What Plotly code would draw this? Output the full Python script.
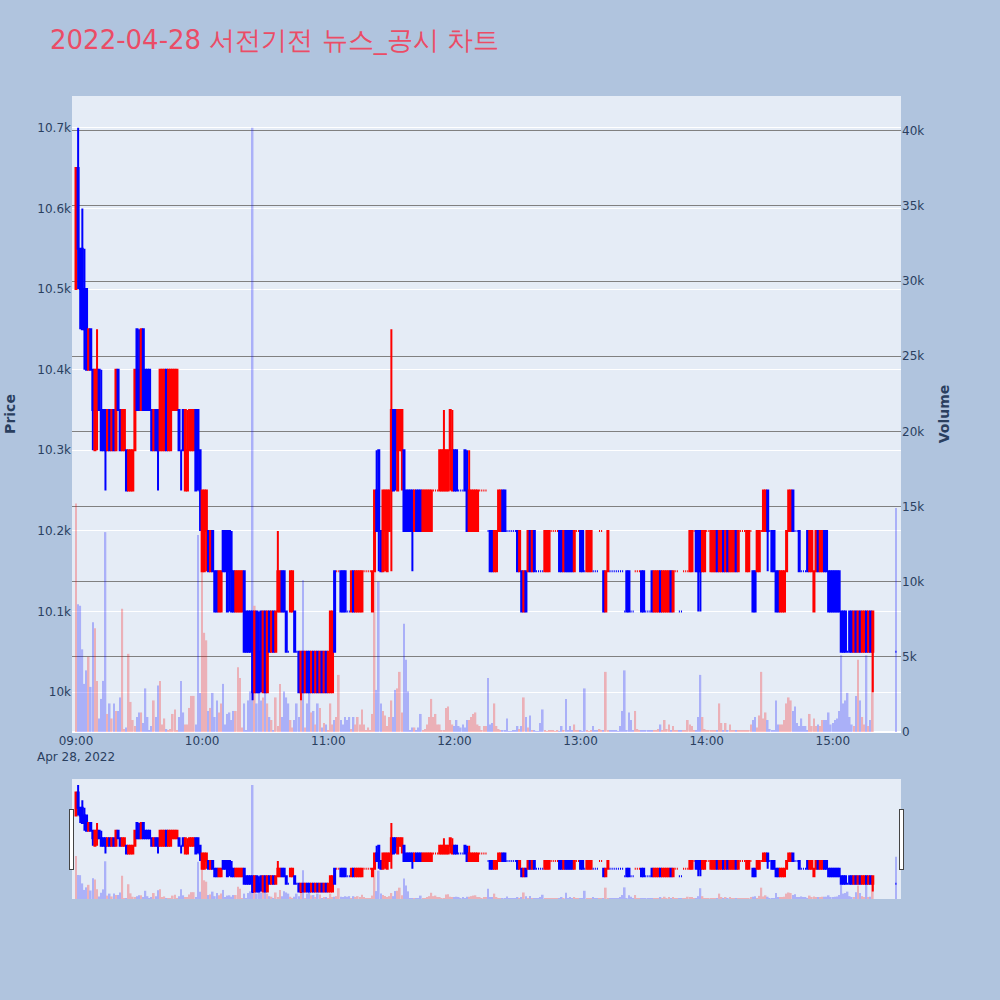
import pandas as pd
import plotly.graph_objects as go
from plotly.subplots import make_subplots

# ---- data (1-minute candles, 2022-04-28) ----
minute_times = [t.strftime("%Y-%m-%d %H:%M") for t in pd.date_range("2022-04-28 09:00", periods=380, freq="min")] + ["2022-04-28 15:30"]

opens = [
    10500,10650,10550,10550,10500,10500,10400,10450,10400,10300,
    10350,10400,10350,10350,10350,10300,10350,10300,10350,10300,
    10400,10350,10300,10300,10300,10250,10250,10250,10300,10450,
    10400,10350,10450,10400,10400,10400,10350,10300,10350,10350,
    10300,10300,10300,10400,10300,10300,10350,10350,10350,10350,
    10300,10350,10250,10250,10300,10300,10300,10350,10350,10300,
    10150,10150,10200,10200,10150,10200,10150,10150,10100,10100,
    10200,10200,10200,10200,10150,10150,10100,10100,10100,10100,
    10150,10100,10100,10100,10100,10000,10100,10050,10100,10000,
    10100,10000,10100,10050,10100,10050,10100,10100,10150,10150,
    10100,10050,10100,10100,10100,10050,10050,10000,10050,10000,
    10050,10050,10000,10050,10000,10050,10000,10050,10000,10050,
    10000,10000,10000,10150,10150,10150,10150,10150,10150,10100,
    10100,10100,10150,10100,10100,10100,10100,10150,10150,10150,
    10150,10100,10150,10250,10300,10200,10150,10200,10150,10200,
    10250,10350,10350,10250,10300,10300,10300,10250,10250,10250,
    10250,10200,10250,10250,10250,10200,10200,10200,10200,10200,
    10250,10250,10250,10250,10250,10250,10250,10250,10300,10250,
    10300,10300,10250,10250,10250,10300,10250,10200,10200,10200,
    10200,10200,10250,10250,10250,10250,10200,10200,10200,10150,
    10150,10200,10200,10250,10250,10200,10200,10200,10200,10200,
    10200,10150,10150,10100,10150,10150,10200,10150,10200,10150,
    10150,10150,10150,10150,10150,10150,10200,10200,10200,10200,
    10200,10200,10150,10200,10200,10200,10200,10150,10200,10200,
    10200,10200,10150,10150,10150,10150,10150,10150,10150,10200,
    10200,10150,10100,10150,10150,10150,10150,10150,10150,10150,
    10150,10100,10150,10150,10100,10100,10150,10150,10150,10150,
    10150,10100,10100,10100,10150,10100,10100,10100,10150,10100,
    10100,10100,10100,10150,10100,10150,10150,10100,10100,10150,
    10150,10150,10150,10150,10200,10200,10200,10200,10150,10150,
    10200,10200,10150,10150,10150,10200,10150,10150,10200,10150,
    10200,10150,10150,10150,10200,10150,10200,10200,10200,10150,
    10150,10200,10150,10150,10150,10150,10200,10200,10200,10250,
    10200,10200,10200,10150,10150,10100,10100,10100,10150,10200,
    10200,10250,10200,10200,10200,10150,10150,10150,10200,10150,
    10150,10100,10150,10200,10150,10150,10200,10200,10150,10150,
    10150,10150,10150,10150,10100,10100,10100,10050,10100,10100,
    10050,10100,10050,10100,10050,10050,10100,10050,10100,10050,
    10050,
]
highs = [
    10650,10700,10550,10600,10550,10500,10450,10450,10400,10400,
    10450,10400,10400,10350,10350,10350,10350,10350,10350,10400,
    10400,10350,10350,10350,10300,10300,10300,10300,10400,10450,
    10450,10450,10450,10400,10400,10400,10350,10350,10350,10350,
    10400,10400,10400,10400,10400,10400,10400,10400,10400,10350,
    10300,10350,10350,10350,10350,10350,10350,10350,10350,10300,
    10250,10250,10250,10200,10200,10200,10150,10150,10150,10150,
    10200,10200,10200,10200,10200,10150,10150,10150,10150,10150,
    10150,10100,10100,10100,10100,10100,10100,10100,10100,10100,
    10100,10100,10100,10100,10100,10100,10200,10150,10150,10150,
    10100,10050,10150,10150,10100,10050,10050,10050,10050,10050,
    10050,10050,10050,10050,10050,10050,10050,10050,10050,10050,
    10050,10100,10100,10150,10150,10150,10150,10150,10150,10100,
    10100,10150,10150,10150,10150,10150,10150,10150,10150,10150,
    10150,10150,10250,10300,10300,10200,10250,10250,10250,10250,
    10450,10350,10350,10350,10350,10350,10300,10250,10250,10250,
    10250,10250,10250,10250,10250,10250,10250,10250,10250,10250,
    10250,10250,10250,10300,10300,10350,10300,10300,10350,10350,
    10300,10300,10250,10250,10250,10300,10300,10300,10250,10250,
    10250,10250,10250,10250,10250,10250,10200,10200,10200,10200,
    10200,10250,10250,10250,10250,10200,10200,10200,10200,10200,
    10200,10200,10150,10150,10150,10200,10200,10200,10200,10150,
    10150,10150,10150,10200,10200,10200,10200,10200,10200,10200,
    10200,10200,10200,10200,10200,10200,10200,10200,10200,10200,
    10200,10200,10150,10200,10200,10200,10150,10150,10150,10200,
    10200,10150,10150,10200,10150,10150,10150,10150,10150,10150,
    10150,10100,10150,10150,10100,10100,10150,10150,10150,10150,
    10150,10100,10100,10100,10150,10150,10150,10150,10150,10150,
    10150,10150,10150,10150,10150,10150,10150,10100,10100,10150,
    10150,10150,10200,10200,10200,10200,10200,10200,10200,10200,
    10200,10200,10200,10200,10200,10200,10200,10200,10200,10200,
    10200,10200,10200,10200,10200,10200,10200,10200,10200,10200,
    10200,10200,10150,10150,10200,10200,10200,10250,10250,10250,
    10200,10200,10200,10150,10150,10150,10150,10150,10200,10250,
    10250,10250,10200,10200,10200,10150,10150,10150,10200,10200,
    10200,10150,10200,10200,10200,10200,10200,10200,10150,10150,
    10150,10150,10150,10150,10100,10100,10100,10050,10100,10100,
    10100,10100,10100,10100,10100,10100,10100,10100,10100,10100,
    10050,
]
lows = [
    10500,10500,10450,10450,10400,10400,10400,10400,10300,10300,
    10300,10350,10300,10300,10250,10300,10300,10300,10300,10300,
    10350,10300,10300,10300,10250,10250,10250,10250,10300,10350,
    10350,10350,10350,10350,10350,10350,10300,10300,10300,10250,
    10300,10300,10300,10300,10300,10300,10350,10350,10350,10300,
    10250,10300,10250,10250,10300,10300,10300,10250,10250,10200,
    10150,10150,10150,10150,10150,10150,10100,10100,10100,10100,
    10150,10150,10100,10100,10100,10100,10100,10100,10100,10100,
    10050,10050,10050,10050,9990,10000,10000,10000,10000,10000,
    10000,10000,10050,10050,10050,10050,10100,10100,10100,10100,
    10050,10050,10100,10100,10050,10050,10000,9990,10000,10000,
    10000,10000,10000,10000,10000,10000,10000,10000,10000,10000,
    10000,10000,10000,10050,10150,10150,10100,10100,10100,10100,
    10100,10100,10100,10100,10100,10100,10100,10150,10150,10150,
    10150,10100,10150,10200,10150,10150,10150,10150,10150,10200,
    10150,10250,10250,10250,10300,10250,10200,10200,10200,10200,
    10150,10200,10200,10200,10200,10200,10200,10200,10200,10200,
    10250,10250,10250,10250,10250,10250,10250,10250,10250,10250,
    10250,10250,10250,10250,10250,10250,10200,10200,10200,10200,
    10200,10200,10250,10250,10250,10250,10200,10150,10150,10150,
    10150,10200,10200,10200,10200,10200,10200,10200,10200,10200,
    10150,10150,10100,10100,10100,10150,10150,10150,10150,10150,
    10150,10150,10150,10150,10150,10150,10200,10200,10200,10200,
    10150,10150,10150,10150,10150,10150,10150,10150,10200,10200,
    10150,10150,10150,10150,10150,10150,10150,10150,10150,10200,
    10200,10100,10100,10150,10150,10150,10150,10150,10150,10150,
    10150,10100,10100,10100,10100,10100,10150,10150,10150,10100,
    10100,10100,10100,10100,10100,10100,10100,10100,10100,10100,
    10100,10100,10100,10100,10100,10150,10150,10100,10100,10150,
    10150,10150,10150,10150,10200,10150,10100,10100,10150,10150,
    10200,10200,10150,10150,10150,10150,10150,10150,10150,10150,
    10150,10150,10150,10150,10150,10150,10200,10200,10200,10150,
    10150,10200,10100,10100,10150,10150,10200,10200,10200,10150,
    10200,10150,10150,10100,10100,10100,10100,10100,10150,10200,
    10200,10200,10200,10200,10150,10150,10150,10150,10150,10150,
    10150,10100,10150,10150,10150,10150,10150,10150,10100,10100,
    10100,10100,10100,10100,10050,10050,10050,10050,10050,10050,
    10050,10050,10050,10050,10050,10050,10050,10050,10050,10000,
    10050,
]
closes = [
    10650,10550,10500,10450,10450,10400,10450,10400,10350,10400,
    10400,10350,10300,10300,10300,10350,10300,10350,10300,10400,
    10350,10300,10350,10350,10250,10300,10300,10300,10400,10350,
    10350,10450,10350,10350,10350,10350,10300,10350,10300,10300,
    10400,10400,10400,10300,10400,10400,10400,10400,10400,10300,
    10300,10300,10350,10300,10350,10350,10350,10250,10300,10250,
    10250,10250,10250,10150,10200,10150,10100,10100,10150,10150,
    10150,10150,10100,10150,10100,10100,10150,10150,10150,10150,
    10050,10050,10050,10050,10000,10100,10000,10000,10050,10100,
    10000,10100,10050,10100,10050,10100,10150,10150,10100,10100,
    10050,10050,10150,10150,10050,10050,10000,10050,10000,10050,
    10000,10000,10050,10000,10050,10000,10050,10000,10050,10000,
    10050,10100,10100,10050,10150,10150,10100,10100,10100,10100,
    10100,10150,10100,10150,10150,10150,10150,10150,10150,10150,
    10150,10150,10250,10200,10200,10150,10250,10250,10250,10250,
    10350,10250,10300,10350,10350,10350,10200,10200,10200,10200,
    10200,10250,10200,10200,10200,10250,10250,10250,10250,10250,
    10250,10250,10250,10300,10300,10300,10300,10300,10350,10300,
    10250,10250,10250,10250,10250,10250,10200,10250,10250,10250,
    10250,10250,10250,10250,10250,10250,10200,10150,10150,10200,
    10200,10250,10250,10200,10200,10200,10200,10200,10200,10200,
    10150,10200,10100,10150,10100,10200,10150,10200,10150,10150,
    10150,10150,10150,10200,10200,10200,10200,10200,10200,10200,
    10150,10150,10200,10150,10150,10150,10150,10200,10200,10200,
    10150,10150,10150,10200,10200,10200,10150,10150,10150,10200,
    10200,10100,10150,10200,10150,10150,10150,10150,10150,10150,
    10150,10100,10100,10100,10100,10100,10150,10150,10150,10100,
    10100,10100,10100,10100,10100,10150,10150,10150,10100,10150,
    10150,10150,10150,10100,10150,10150,10150,10100,10100,10150,
    10150,10150,10200,10200,10200,10150,10150,10150,10200,10200,
    10200,10200,10200,10200,10200,10150,10200,10200,10150,10200,
    10150,10200,10200,10200,10150,10200,10200,10200,10200,10200,
    10200,10200,10100,10100,10200,10200,10200,10250,10250,10200,
    10200,10150,10150,10100,10100,10150,10150,10150,10200,10250,
    10250,10200,10200,10200,10150,10150,10150,10150,10150,10200,
    10200,10150,10200,10150,10200,10200,10150,10150,10100,10100,
    10100,10100,10100,10100,10050,10050,10050,10050,10050,10050,
    10100,10050,10100,10050,10100,10100,10050,10100,10050,10100,
    10050,
]
volumes = [
    15200,8500,8400,5500,3200,4100,5000,3000,7300,6900,
    3400,900,2200,3400,13300,1200,1900,900,1900,1400,
    1400,2300,8200,200,300,5200,2000,800,400,1000,
    1300,1300,600,2900,1000,100,400,2100,1000,3100,
    3400,500,900,200,100,200,1200,1500,100,1000,
    3400,1300,500,500,1600,2400,2400,500,13100,2600,
    13300,6600,6100,1400,1600,2600,1000,2100,1300,1900,
    3200,500,1200,1300,800,1400,1400,4300,3600,300,
    1900,100,2100,2700,40200,8400,1900,3100,2100,2300,
    3400,1900,1000,800,100,2300,400,3200,1000,2700,
    2300,1900,800,300,800,1900,1000,2600,10100,300,
    1900,3600,1300,1400,500,1900,1600,300,600,500,
    100,1900,500,800,1000,3800,800,500,1000,800,
    1000,200,1000,500,1000,500,1500,500,100,300,
    100,1200,14900,2800,10000,1900,1400,1100,400,1000,
    2100,1000,2800,2900,4000,1300,7200,4800,2700,100,
    300,300,100,300,1200,100,200,500,1000,2200,
    1000,1200,500,500,100,100,1600,1700,800,500,
    400,800,400,300,500,300,800,800,1000,1200,
    1300,500,400,100,400,400,3600,500,600,1900,
    400,200,100,100,100,900,50,50,100,100,
    400,200,400,2300,1000,300,1100,100,100,50,
    50,600,1500,100,50,100,100,100,50,100,
    50,400,100,2200,100,400,100,500,100,100,
    100,50,2900,100,50,100,400,100,100,200,
    100,100,4000,100,100,100,100,100,50,400,
    1400,4100,100,1300,800,100,1400,200,100,100,
    100,100,100,100,100,100,100,200,500,100,
    800,200,500,100,400,100,100,100,100,100,
    100,800,500,400,100,100,1000,3800,1000,200,
    100,100,100,100,100,100,1900,600,100,600,
    100,500,100,100,100,100,100,100,100,100,
    100,500,800,1000,300,1100,4000,900,1300,800,
    200,100,100,2100,500,500,500,800,1900,2300,
    2100,1400,1700,600,400,900,400,400,100,1200,
    400,900,400,500,400,800,800,800,1300,500,
    600,800,900,1400,5100,1900,2100,2600,1000,500,
    400,2400,4800,2100,1000,500,5100,400,800,5800,
    14900,
]

UP_COLOR = "red"
DOWN_COLOR = "blue"

# direction of each candle, following plotly's own rule (doji -> compare with previous close)
directions = []
prev_close, prev_up = None, True
for o, c in zip(opens, closes):
    if c != o:
        up = c > o
    elif prev_close is not None and c != prev_close:
        up = c > prev_close
    else:
        up = prev_up
    directions.append(up)
    prev_close, prev_up = c, up
bar_colors = [UP_COLOR if d else DOWN_COLOR for d in directions]

fig = make_subplots(specs=[[{"secondary_y": True}]])
fig.add_trace(
    go.Candlestick(
        x=minute_times, open=opens, high=highs, low=lows, close=closes,
        increasing=dict(line=dict(color=UP_COLOR), fillcolor=UP_COLOR),
        decreasing=dict(line=dict(color=DOWN_COLOR), fillcolor=DOWN_COLOR),
        name="Price",
    ),
    secondary_y=False,
)
fig.add_trace(
    go.Bar(x=minute_times, y=volumes, marker=dict(color=bar_colors, line=dict(width=0)),
           opacity=0.25, name="Volume"),
    secondary_y=True,
)

fig.update_layout(
    width=1000, height=1000,
    template="plotly",
    font=dict(family="DejaVu Sans"),
    title=dict(text="2022-04-28 서전기전 뉴스_공시 차트", x=0.05, y=0.96, yanchor="middle",
               font=dict(size=26, color="#EB4C66")),
    paper_bgcolor="lightsteelblue",
    plot_bgcolor="#E5ECF6",
    showlegend=False,
    margin=dict(l=72, r=99, t=96, b=101),
)
fig.update_xaxes(
    domain=[0, 1],
    showgrid=False,
    range=["2022-04-28 08:58:05", "2022-04-28 15:32:25"],
    rangeslider=dict(visible=True, bgcolor="#E5ECF6", thickness=0.15),
)
fig.update_yaxes(title_text="<b>Price</b>", title_standoff=18, automargin=False, secondary_y=False)
fig.update_yaxes(title_text="<b>Volume</b>", gridcolor="gray", automargin=False, secondary_y=True)

fig.write_html("out.html", config={"displayModeBar": False},
               post_script="document.body.style.margin='0px';document.body.style.overflow='hidden';")
